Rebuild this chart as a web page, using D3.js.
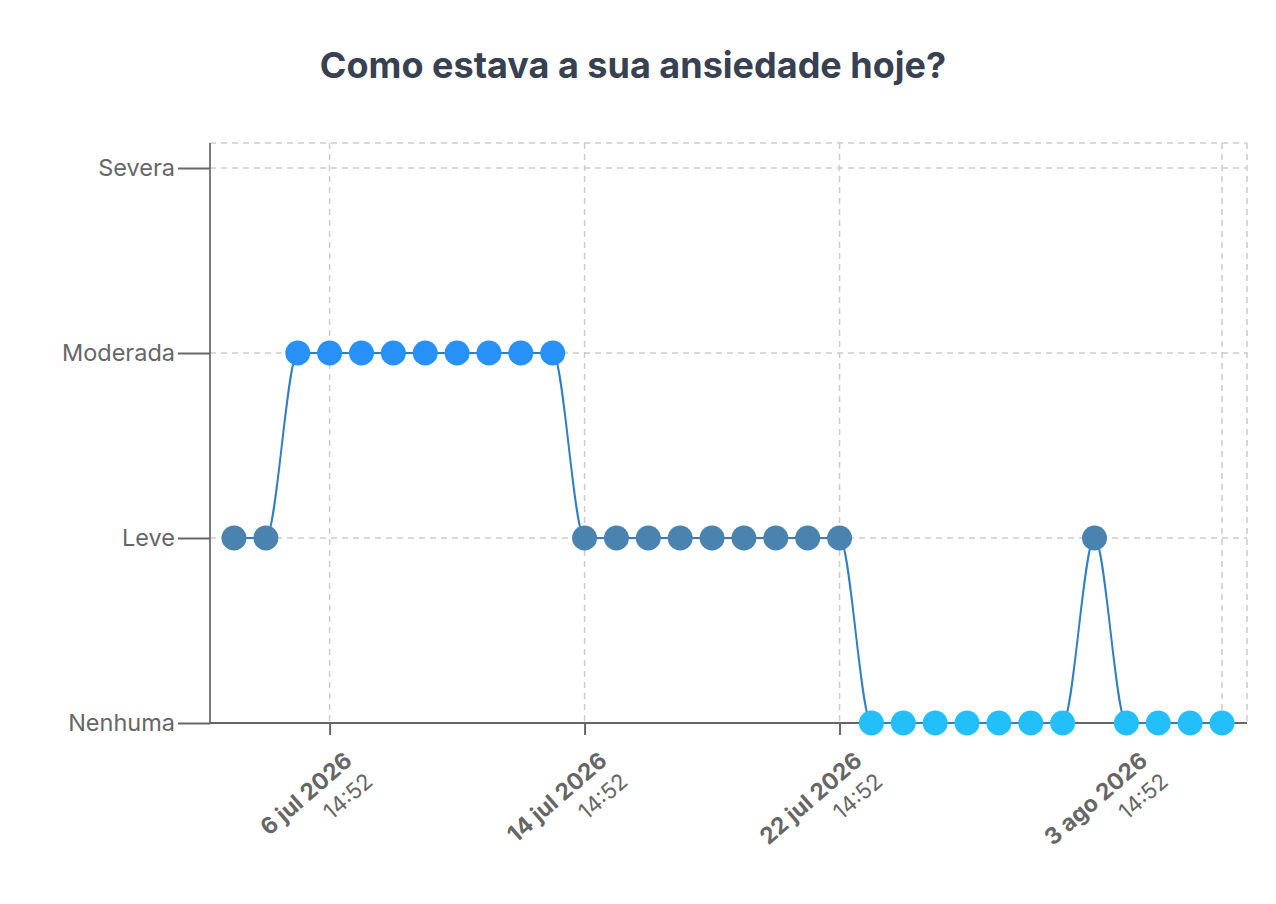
<!DOCTYPE html>
<html>
<head>
<meta charset="utf-8">
<script src="https://cdn.jsdelivr.net/npm/d3@7"></script>
<style>
  body { margin: 0; background: #fff; }
  #chart text { font-family: Inter, "Noto Sans", sans-serif; }
</style>
</head>
<body>
<div id="chart"></div>
<script>
var levels = ["Nenhuma", "Leve", "Moderada", "Severa"];

var days = [
  "2026-07-03", "2026-07-04", "2026-07-05", "2026-07-06", "2026-07-07", "2026-07-08",
  "2026-07-09", "2026-07-10", "2026-07-11", "2026-07-12", "2026-07-13", "2026-07-14",
  "2026-07-15", "2026-07-16", "2026-07-17", "2026-07-18", "2026-07-19", "2026-07-20",
  "2026-07-21", "2026-07-22", "2026-07-23", "2026-07-24", "2026-07-25", "2026-07-26",
  "2026-07-27", "2026-07-28", "2026-07-29", "2026-07-30", "2026-07-31", "2026-08-01",
  "2026-08-02", "2026-08-03"
];

var answers = [
  "Leve", "Leve", "Moderada", "Moderada", "Moderada", "Moderada",
  "Moderada", "Moderada", "Moderada", "Moderada", "Moderada", "Leve",
  "Leve", "Leve", "Leve", "Leve", "Leve", "Leve",
  "Leve", "Leve", "Nenhuma", "Nenhuma", "Nenhuma", "Nenhuma",
  "Nenhuma", "Nenhuma", "Nenhuma", "Leve", "Nenhuma", "Nenhuma",
  "Nenhuma", "Nenhuma"
];

var tickDays = ["2026-07-06", "2026-07-14", "2026-07-22", "2026-08-03"];
var tickDates = ["6 jul 2026", "14 jul 2026", "22 jul 2026", "3 ago 2026"];
var tickTimes = ["14:52", "14:52", "14:52", "14:52"];

var levelColors = {
  "Nenhuma": "#23bffa",
  "Leve": "#4a82b0",
  "Moderada": "#2791f7",
  "Severa": "#1f5f99"
};

var w = 1276,
    h = 904;

var plotLeft = 210,
    plotRight = 1247,
    plotTop = 143,
    plotBottom = 723;

var parse = d3.utcParse("%Y-%m-%d %H:%M");

var points = [];
for (var i = 0; i < days.length; i++) {
  points.push({ date: parse(days[i] + " 14:52"), level: answers[i] });
}

var ticks = [];
for (var i = 0; i < tickDays.length; i++) {
  ticks.push({ date: parse(tickDays[i] + " 14:52"), day: tickDates[i], time: tickTimes[i] });
}

var x = d3.scaleUtc()
          .domain(d3.extent(points, function(d) { return d.date; }))
          .range([plotLeft + 24, plotRight - 25]);

var y = d3.scalePoint()
          .domain(levels)
          .range([plotBottom, 168]);

var svg = d3.select("#chart")
            .append("svg")
            .attr("width", w)
            .attr("height", h);

svg.append("text")
   .attr("x", 633)
   .attr("y", 78)
   .attr("text-anchor", "middle")
   .style("font-weight", "bold")
   .style("font-size", "36px")
   .style("fill", "#374151")
   .text("Como estava a sua ansiedade hoje?");

// grid
var grid = svg.append("g")
              .style("stroke", "#cccccc")
              .style("stroke-width", 1.5)
              .style("stroke-dasharray", "6,5");

grid.selectAll(".vgrid")
    .data(ticks)
    .enter()
    .append("line")
    .attr("x1", function(d) { return x(d.date); })
    .attr("x2", function(d) { return x(d.date); })
    .attr("y1", plotTop)
    .attr("y2", plotBottom);

grid.selectAll(".hgrid")
    .data(levels.slice(1))
    .enter()
    .append("line")
    .attr("x1", plotLeft)
    .attr("x2", plotRight)
    .attr("y1", function(d) { return y(d); })
    .attr("y2", function(d) { return y(d); });

grid.append("line")
    .attr("x1", plotLeft).attr("x2", plotRight)
    .attr("y1", plotTop).attr("y2", plotTop);

grid.append("line")
    .attr("x1", plotRight).attr("x2", plotRight)
    .attr("y1", plotTop).attr("y2", plotBottom);

// y axis
var yAxis = svg.append("g")
               .attr("transform", "translate(" + plotLeft + ",0)")
               .call(d3.axisLeft(y).tickSize(32).tickPadding(3));

yAxis.select(".domain").remove();
yAxis.append("line")
     .attr("x1", 0).attr("x2", 0)
     .attr("y1", plotTop).attr("y2", plotBottom)
     .style("stroke", "#666")
     .style("stroke-width", 1.7);

yAxis.selectAll(".tick line")
     .style("stroke", "#666")
     .style("stroke-width", 2);

yAxis.selectAll(".tick text")
     .style("font-size", "23.5px")
     .style("fill", "#666");

// x axis
var xAxis = svg.append("g")
               .attr("transform", "translate(0," + plotBottom + ")")
               .call(d3.axisBottom(x)
                       .tickValues(ticks.map(function(d) { return d.date; }))
                       .tickSize(12)
                       .tickFormat(""));

xAxis.select(".domain").remove();
xAxis.append("line")
     .attr("x1", plotLeft).attr("x2", plotRight)
     .style("stroke", "#666")
     .style("stroke-width", 2);

xAxis.selectAll(".tick line")
     .style("stroke", "#666")
     .style("stroke-width", 2);

xAxis.selectAll(".tick text").remove();

// the last label is pushed back so it stays inside the plot
var labelMaxX = plotRight - 98;

var labels = xAxis.selectAll(".xlabel")
                  .data(ticks)
                  .enter()
                  .append("text")
                  .attr("transform", function(d) {
                      var lx = Math.min(x(d.date) + 24, labelMaxX);
                      return "translate(" + lx + ",40) rotate(-41)";
                  })
                  .attr("text-anchor", "end")
                  .style("fill", "#666");

labels.append("tspan")
      .attr("x", 0)
      .style("font-size", "23px")
      .style("font-weight", "bold")
      .text(function(d) { return d.day; });

labels.append("tspan")
      .attr("x", 2)
      .attr("dy", 29)
      .style("font-size", "22px")
      .text(function(d) { return d.time; });

// series
var line = d3.line()
             .x(function(d) { return x(d.date); })
             .y(function(d) { return y(d.level); })
             .curve(d3.curveMonotoneX);

svg.append("path")
   .datum(points)
   .attr("d", line)
   .style("fill", "none")
   .style("stroke", "#2f7fc1")
   .style("stroke-width", 2);

svg.selectAll("circle.point")
   .data(points)
   .enter()
   .append("circle")
   .attr("class", "point")
   .attr("cx", function(d) { return x(d.date); })
   .attr("cy", function(d) { return y(d.level); })
   .attr("r", 12.5)
   .style("fill", function(d) { return levelColors[d.level]; });
</script>
</body>
</html>
